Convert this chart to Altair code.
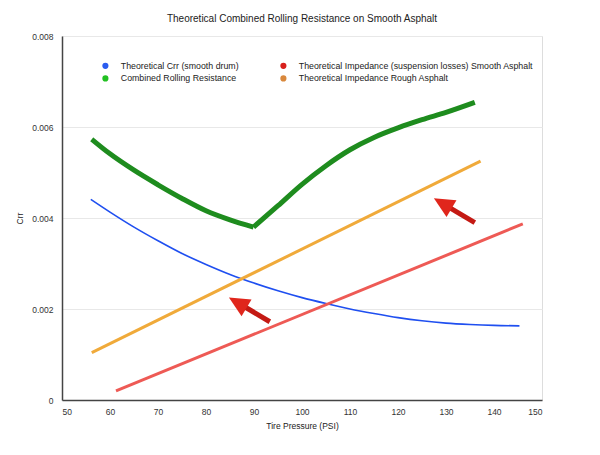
import altair as alt
import pandas as pd
import numpy as np

FONT = "Liberation Sans"

s_blue = "Theoretical Crr (smooth drum)"
s_red = "Theoretical Impedance (suspension losses) Smooth Asphalt"
s_green = "Combined Rolling Resistance"
s_orange = "Theoretical Impedance Rough Asphalt"

blue_x = [56, 60, 65, 70, 75, 80, 85, 90, 95, 100, 105, 110, 115, 120, 125, 130, 135, 140, 145.3]
blue_y = [0.00441, 0.00413, 0.00380, 0.00350, 0.00322, 0.00298, 0.00276, 0.00257, 0.00240, 0.00225,
          0.00212, 0.00200, 0.00190, 0.00181, 0.00174, 0.00169, 0.00166, 0.00164, 0.00163]

# combined: falling branch up to 90 psi, rising branch after
green_left_x = [56.2, 60, 65, 70, 75, 80, 85, 89.9]
green_left_y = [0.00573, 0.00541, 0.00505, 0.00473, 0.00443, 0.00416, 0.00396, 0.00380]
green_right_x = [89.9, 95, 100, 105, 110, 115, 120, 125, 130, 136]
green_right_y = [0.00380, 0.00427, 0.00474, 0.00515, 0.00550, 0.00577, 0.00598, 0.00616, 0.00632, 0.00654]

orange_x = [56.2, 137.2]
orange_y = [0.00104, 0.00525]

red_x = [61.25, 146]
red_y = [0.00020, 0.00387]

# annotation arrows: tail and tip
arrow_tail_x = [93.3, 136.0]
arrow_tail_y = [0.00172, 0.00390]
arrow_tip_x = [85.0, 127.7]
arrow_tip_y = [0.00224, 0.00442]

order = [s_blue, s_green, s_red, s_orange]
line_colors = ["#1f4ff0", "#1e8c1e", "#ee5a55", "#f0aa3a"]
legend_colors = ["#2a5cf0", "#22c022", "#d8201c", "#d9883c"]
widths = {s_blue: 1.6, s_red: 3, s_green: 5, s_orange: 3}

rows = []
for seg, name, xs, ys in [("b", s_blue, blue_x, blue_y), ("gl", s_green, green_left_x, green_left_y),
                          ("gr", s_green, green_right_x, green_right_y),
                          ("o", s_orange, orange_x, orange_y), ("r", s_red, red_x, red_y)]:
    for i, (x, y) in enumerate(zip(xs, ys)):
        rows.append({"series": name, "seg": seg, "psi": x, "crr": y, "i": i, "w": widths[name]})
df = pd.DataFrame(rows)

W, H = 480, 364
XMIN, XMAX, YMIN, YMAX = 50, 150, 0, 0.008
px_x = W / (XMAX - XMIN)
px_y = H / (YMAX - YMIN)

arrows = []
for tx, ty, hx, hy in zip(arrow_tail_x, arrow_tail_y, arrow_tip_x, arrow_tip_y):
    dxp = (tx - hx) * px_x
    dyp = -(ty - hy) * px_y
    L = (dxp ** 2 + dyp ** 2) ** 0.5
    ux, uy = dxp / L, dyp / L
    cx = hx + 9 * ux / px_x
    cy = hy - 9 * uy / px_y
    bx = hx + 14 * ux / px_x
    by = hy - 14 * uy / px_y
    ang = (np.degrees(np.arctan2(-ux, uy)) + 360) % 360
    arrows.append({"tx": tx, "ty": ty, "bx": bx, "by": by, "cx": cx, "cy": cy, "ang": float(ang)})
adf = pd.DataFrame(arrows)

xsc = alt.Scale(domain=[XMIN, XMAX], nice=False, zero=False)
ysc = alt.Scale(domain=[YMIN, YMAX], nice=False)

x_axis = alt.Axis(values=list(range(50, 151, 10)), title="Tire Pressure (PSI)", grid=False, ticks=False,
                  domainColor="#444444", domainWidth=1.5, labelFontSize=8.5, labelColor="#333333",
                  labelPadding=7, titleFontSize=8.5, titleFontWeight="normal", titleColor="#222222",
                  titlePadding=6, labelFont=FONT, titleFont=FONT)
y_axis = alt.Axis(values=[0, 0.002, 0.004, 0.006, 0.008], title="Crr", grid=True, gridColor="#e8e8e8",
                  ticks=False, domainColor="#444444", domainWidth=1.5, labelFontSize=8.5,
                  labelColor="#333333", labelPadding=9, titleFontSize=8.5, titleFontWeight="normal",
                  titleColor="#222222", titlePadding=7, labelFont=FONT, titleFont=FONT,
                  labelExpr="datum.value == 0 ? '0' : format(datum.value, '.3f')")

base = alt.Chart(df)

lines = base.mark_line(strokeCap="butt", strokeJoin="round", interpolate="monotone").encode(
    x=alt.X("psi:Q", scale=xsc, axis=x_axis),
    y=alt.Y("crr:Q", scale=ysc, axis=y_axis),
    color=alt.Color("series:N", scale=alt.Scale(domain=order, range=line_colors), legend=None),
    strokeWidth=alt.StrokeWidth("w:Q", scale=None, legend=None),
    order="i:Q",
    detail="seg:N",
)

legend_layer = base.mark_point(filled=True, opacity=0).encode(
    x=alt.X("psi:Q", scale=xsc),
    y=alt.Y("crr:Q", scale=ysc),
    fill=alt.Fill("series:N", scale=alt.Scale(domain=order, range=legend_colors), sort=order,
                  legend=alt.Legend(title=None, orient="none", legendX=39, legendY=25, columns=2,
                                    columnPadding=40, rowPadding=3, symbolType="circle", symbolSize=38,
                                    symbolOpacity=1, symbolStrokeWidth=0, labelFontSize=8.8,
                                    labelFont=FONT, labelColor="#222222", labelOffset=11,
                                    labelLimit=400, padding=0)),
)

shafts = alt.Chart(adf).mark_rule(color="#c41a14", strokeWidth=5, strokeCap="butt").encode(
    x=alt.X("tx:Q", scale=xsc), y=alt.Y("ty:Q", scale=ysc), x2="bx:Q", y2="by:Q"
)
heads = alt.Chart(adf).mark_point(filled=True, color="#e0261c", opacity=1,
                                  shape="M0,-1L0.95,1L-0.95,1Z", size=420).encode(
    x=alt.X("cx:Q", scale=xsc), y=alt.Y("cy:Q", scale=ysc), angle=alt.Angle("ang:Q", scale=None)
)

chart = alt.layer(lines, legend_layer, shafts, heads).resolve_scale(
    color="independent", fill="independent"
).properties(
    width=W, height=H,
    autosize=alt.AutoSizeParams(type="none"),
    padding={"left": 54, "top": 28, "right": 50, "bottom": 47},
    title=alt.Title("Theoretical Combined Rolling Resistance on Smooth Asphalt", fontSize=10,
                    font=FONT, fontWeight="normal", color="#222222", anchor="middle", offset=8),
).configure_view(stroke=None).configure(background="white")

chart.save("out.html", embed_options={"renderer": "svg", "actions": False})
